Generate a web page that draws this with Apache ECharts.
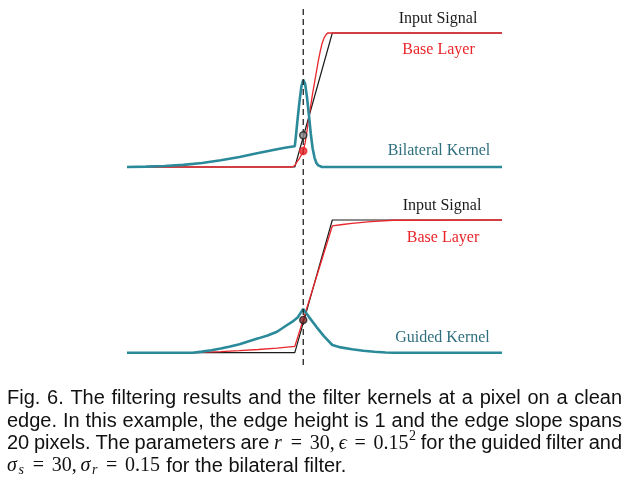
<!DOCTYPE html>
<html>
<head>
<meta charset="utf-8">
<script src="https://cdn.jsdelivr.net/npm/echarts@6/dist/echarts.min.js"></script>
<style>html,body{margin:0;padding:0;background:#fff}#c{width:628px;height:488px}</style>
</head>
<body>
<div id="c"></div>
<script>
// ---- data (x = pixel index along the 1-D signal, y = normalised level) ----
const signalX = [0, 89.5, 109.5, 200];
const signalY = [0, 0, 1, 1];

const bilateralBaseX = [0, 88, 89.5, 90, 91, 92, 93, 94, 95, 96, 97, 98, 99, 100, 101, 102, 103, 104, 105, 106, 107, 200];
const bilateralBaseY = [0, 0, 0.01, 0.025, 0.045, 0.065, 0.09, 0.12, 0.18, 0.27, 0.37, 0.46, 0.55, 0.63, 0.71, 0.79, 0.86, 0.92, 0.96, 0.985, 1, 1];

const bilateralKernelX = [0, 10, 20, 30, 40, 50, 60, 70, 76, 80, 85, 89.5, 90, 91, 92, 93, 94, 95, 96, 97, 98, 99, 100, 101, 102, 103, 104, 200];
const bilateralKernelY = [0, 0.003, 0.007, 0.016, 0.03, 0.05, 0.075, 0.104, 0.122, 0.133, 0.145, 0.155, 0.22, 0.36, 0.49, 0.6, 0.65, 0.62, 0.52, 0.39, 0.25, 0.14, 0.07, 0.03, 0.012, 0.004, 0, 0];

const guidedBaseX = [0, 35, 50, 60, 70, 80, 89.5, 94, 109.5, 115, 120, 130, 142, 200];
const guidedBaseY = [0, 0, 0.008, 0.015, 0.024, 0.034, 0.048, 0.25, 0.955, 0.966, 0.975, 0.987, 0.998, 1];

const guidedKernelX = [0, 35, 40, 45, 50, 55, 60, 65, 70, 75, 80, 85, 88, 91, 94, 97, 101, 105, 109.5, 114, 120, 126, 132, 138, 142, 200];
const guidedKernelY = [0, 0, 0.008, 0.018, 0.031, 0.046, 0.064, 0.087, 0.108, 0.13, 0.158, 0.205, 0.232, 0.265, 0.33, 0.27, 0.195, 0.125, 0.058, 0.04, 0.026, 0.015, 0.007, 0.002, 0, 0];

const pixelX = 94;
const topSignalDot = 0.237;
const topBaseDot = 0.12;
const bottomDot = 0.246;

const labelsTop = ['Input Signal', 'Base Layer', 'Bilateral Kernel'];
const labelsBottom = ['Input Signal', 'Base Layer', 'Guided Kernel'];

const captionLines = [
  'Fig. 6. The filtering results and the filter kernels at a pixel on a clean',
  'edge. In this example, the edge height is 1 and the edge slope spans',
  '20 pixels. The parameters are $M1 for the guided filter and',
  '$M2 for the bilateral filter.'
];

// ---- helpers ----
const zip = (xs, ys) => xs.map((x, i) => [x, ys[i]]);
const BLACK = '#1b1b1b', RED = '#e8262b', TEAL = '#2b8a9a', TEALTXT = '#2f6f7d';

const SANS = '20px "Liberation Sans", Arial, sans-serif';
const MS_SIZE = 20;
const MR = '20px "Liberation Serif", "DejaVu Serif", serif';
const MI = 'italic 20px "Liberation Serif", "DejaVu Serif", serif';
const MSM = '14px "Liberation Serif", "DejaVu Serif", serif';
const MSI = 'italic 14px "Liberation Serif", "DejaVu Serif", serif';

// math pieces: text, font, advance in em, centred?, vertical offset
const mathPieces = {
  M1: [{t: 'r', f: MI, w: 0.451}, {t: '=', f: MR, w: 1.334, c: 1}, {t: '30', f: MR, w: 1.0}, {t: ',', f: MR, w: 0.445},
       {t: '\u03F5', f: MI, w: 0.406}, {t: '=', f: MR, w: 1.334, c: 1}, {t: '0.15', f: MR, w: 1.778}, {t: '2', f: MSM, w: 0.35, dy: -7}],
  M2: [{t: '\u03C3', f: MI, w: 0.571}, {t: 's', f: MSI, w: 0.33, dy: 4}, {t: '=', f: MR, w: 1.334, c: 1}, {t: '30', f: MR, w: 1.0},
       {t: ',', f: MR, w: 0.445}, {t: '\u03C3', f: MI, w: 0.571}, {t: 'r', f: MSI, w: 0.316, dy: 4}, {t: '=', f: MR, w: 1.334, c: 1},
       {t: '0.15', f: MR, w: 1.778}]
};

const ctx = document.createElement('canvas').getContext('2d');
function mw(t, f) { ctx.font = f; return ctx.measureText(t).width; }

const capLeft = 7, capRight = 622;
const capY = [398.8, 421.2, 443.6, 466];
const graphics = [];

captionLines.forEach((line, li) => {
  const words = line.split(' ').map(wd => {
    if (wd.startsWith('$')) {
      const pcs = mathPieces[wd.slice(1)];
      return {math: true, pieces: pcs, width: pcs.reduce((s, p) => s + p.w * MS_SIZE, 0)};
    }
    return {pieces: [{t: wd, f: SANS}], width: mw(wd, SANS)};
  });
  const total = words.reduce((s, w) => s + w.width, 0);
  const justify = li < captionLines.length - 1;
  const gap = justify ? (capRight - capLeft - total) / (words.length - 1) : mw(' ', SANS);
  let x = capLeft;
  words.forEach(w => {
    let px = x;
    w.pieces.forEach(p => {
      const adv = w.math ? p.w * MS_SIZE : mw(p.t, p.f);
      graphics.push({type: 'text', x: p.c ? px + adv / 2 : px, y: capY[li] + (p.dy || 0), silent: true,
        style: {text: p.t, font: p.f, fill: '#111', align: p.c ? 'center' : 'left', verticalAlign: 'middle'}});
      px += adv;
    });
    x += w.width + gap;
  });
});

const SERIF16 = '16px "Liberation Serif", "Times New Roman", serif';
function label(text, cx, cy, color) {
  graphics.push({type: 'text', x: cx, y: cy, silent: true,
    style: {text: text, font: SERIF16, fill: color, align: 'center', verticalAlign: 'middle'}});
}
label(labelsTop[0], 438, 19, BLACK);
label(labelsTop[1], 438.5, 50, RED);
label(labelsTop[2], 439, 151, TEALTXT);
label(labelsBottom[0], 442, 206, BLACK);
label(labelsBottom[1], 443, 238, RED);
label(labelsBottom[2], 442.5, 338, TEALTXT);

function lineSeries(xs, ys, gi, color, width, z) {
  return {type: 'line', xAxisIndex: gi, yAxisIndex: gi, data: zip(xs, ys), showSymbol: false, symbol: 'none',
    clip: false, silent: true, z: z, lineStyle: {color: color, width: width}, animation: false};
}
function dot(x, y, gi, fill, border, z) {
  return {type: 'scatter', xAxisIndex: gi, yAxisIndex: gi, data: [[x, y]], symbol: 'circle', symbolSize: 7,
    clip: false, silent: true, z: z, itemStyle: {color: fill, borderColor: border, borderWidth: 1.5}, animation: false};
}

const grids = [
  {left: 127, width: 375, top: 33, height: 134},
  {left: 127, width: 375, top: 220, height: 132.7},
  {left: 127, width: 375, top: 5, height: 360}
];

const option = {
  animation: false,
  backgroundColor: '#fff',
  grid: grids,
  xAxis: grids.map((g, i) => ({type: 'value', gridIndex: i, min: 0, max: 200, show: false})),
  yAxis: grids.map((g, i) => ({type: 'value', gridIndex: i, min: 0, max: 1, show: false})),
  graphic: graphics,
  series: [
    lineSeries(signalX, signalY, 0, BLACK, 1.2, 2),
    lineSeries(bilateralBaseX, bilateralBaseY, 0, RED, 1.3, 3),
    lineSeries(bilateralKernelX, bilateralKernelY, 0, TEAL, 2.6, 4),
    lineSeries(signalX, signalY, 1, BLACK, 1.2, 2),
    lineSeries(guidedBaseX, guidedBaseY, 1, RED, 1.3, 3),
    lineSeries(guidedKernelX, guidedKernelY, 1, TEAL, 2.6, 4),
    {type: 'line', xAxisIndex: 2, yAxisIndex: 2, data: [[pixelX, 0], [pixelX, 1]], symbol: 'none', silent: true, z: 5,
      lineStyle: {color: '#222', width: 1.3, type: [6, 4]}, animation: false},
    dot(pixelX, topSignalDot, 0, '#888', '#222', 6),
    dot(pixelX, topBaseDot, 0, RED, RED, 6),
    dot(pixelX, bottomDot, 1, '#8a2a2a', '#222', 6)
  ]
};

const chart = echarts.init(document.getElementById('c'), null, {renderer: 'canvas'});
chart.setOption(option);
</script>
</body>
</html>
